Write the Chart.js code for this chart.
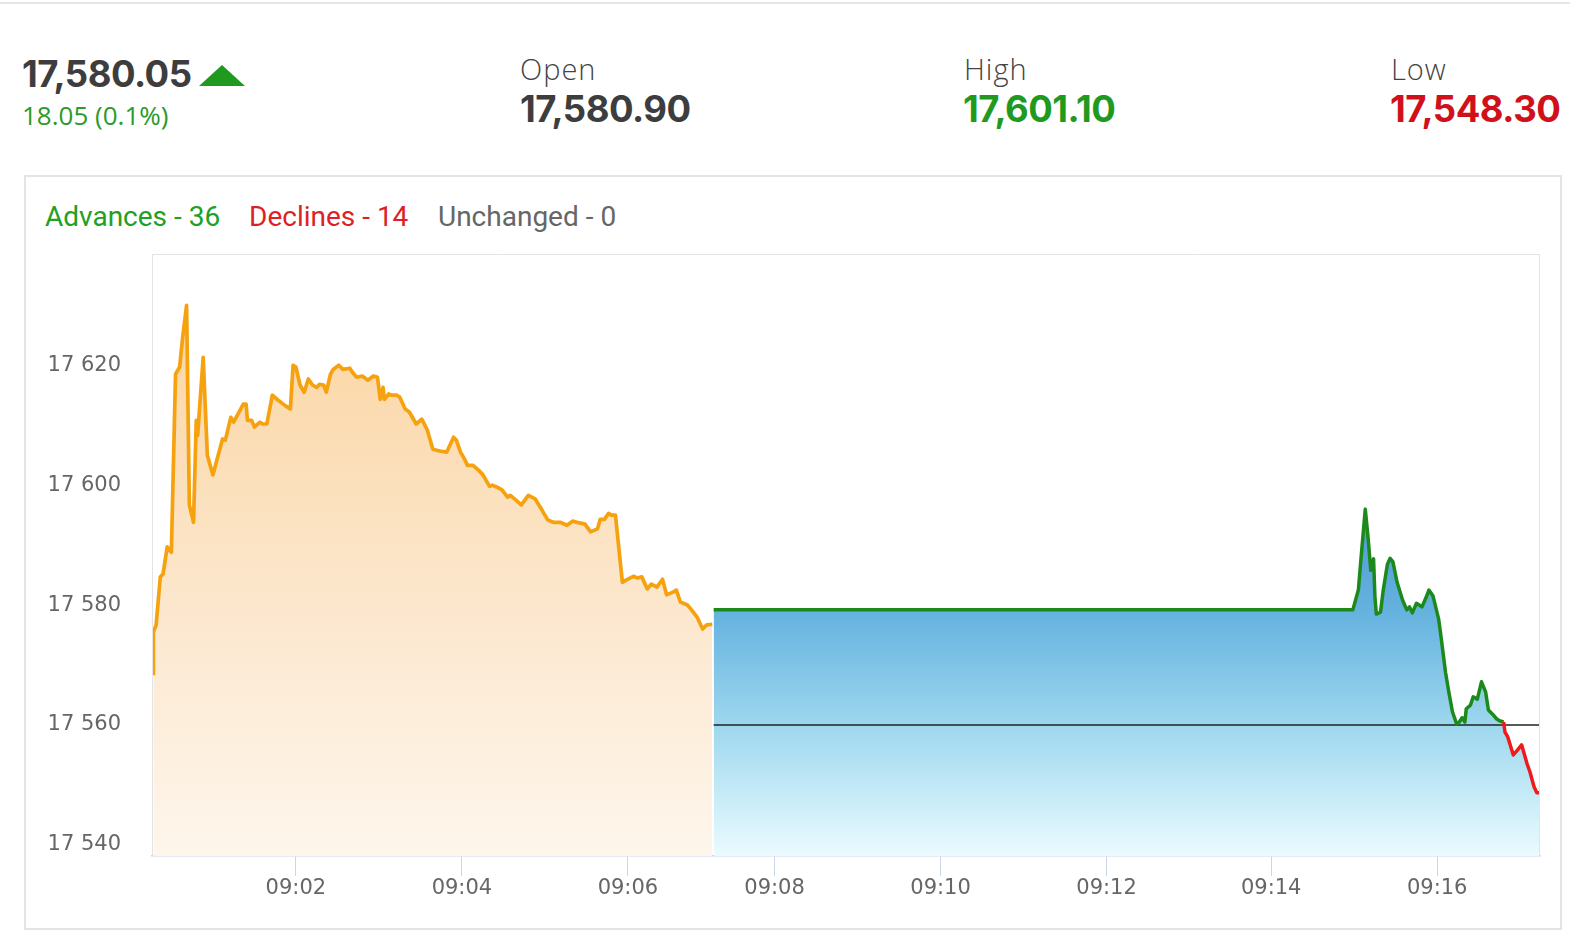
<!DOCTYPE html>
<html>
<head>
<meta charset="utf-8">
<script src="https://cdn.jsdelivr.net/npm/chart.js@4.4.1/dist/chart.umd.min.js"></script>
<style>
  html, body { margin:0; padding:0; background:#fff; width:1570px; height:938px; overflow:hidden; }
  .abs { position:absolute; white-space:nowrap; }
  #topline { position:absolute; left:0; top:2px; width:1570px; height:2px; background:#e6e6e6; }
  .big { font-family:"Inter","Open Sans",sans-serif; font-weight:700; font-size:36.5px; letter-spacing:-0.5px; color:#3d3d3d; }
  .lbl { font-family:"Open Sans",sans-serif; font-weight:300; font-size:29px; color:#444; letter-spacing:1px; }
  .chg { font-family:"Open Sans",sans-serif; font-weight:400; font-size:26px; color:#2a9a2a; }
  #card { position:absolute; left:24px; top:175px; width:1534px; height:751px; border:2px solid #e4e4e4; box-sizing:content-box; }
  .leg { font-family:Roboto,sans-serif; font-size:28px; }
  #tri { position:absolute; left:199px; top:65px; width:0; height:0; border-left:23px solid transparent; border-right:23px solid transparent; border-bottom:21px solid #1f9a1f; }
  canvas { position:absolute; left:0; top:0; }
</style>
</head>
<body>
<div id="topline"></div>
<div id="card"></div>
<div class="abs big" style="left:22px; top:52px;">17,580.05</div>
<div id="tri"></div>
<div class="abs chg" style="left:22px; top:97px;">18.05 (0.1%)</div>
<div class="abs lbl" style="left:520px; top:49px;">Open</div>
<div class="abs big" style="left:520px; top:87px;">17,580.90</div>
<div class="abs lbl" style="left:964px; top:49px;">High</div>
<div class="abs big" style="left:963px; top:87px; color:#1f9a1f;">17,601.10</div>
<div class="abs lbl" style="left:1391px; top:49px;">Low</div>
<div class="abs big" style="left:1390px; top:87px; color:#d0101a;">17,548.30</div>
<div class="abs leg" style="left:45px; top:200px; color:#22a022;">Advances - 36</div>
<div class="abs leg" style="left:249px; top:200px; color:#dd1f26;">Declines - 14</div>
<div class="abs leg" style="left:438px; top:200px; color:#666;">Unchanged - 0</div>
<canvas id="c" width="1570" height="938"></canvas>
<script>
// ---- data (x = seconds after 09:00:00 on the chart's axis) ----
const orangeTimes = [17,17,19,22,24,27,30,33,36,38,41,43,46,48,49,53,56,60,67,69,73,75,82,84,85,88,90,94,96,99,103,107,112,116,118,120,123,126,129,132,135,137,140,142,145,147,151,154,159,161,164,168,172,176,179,181,183,184,187,189,193,195,199,202,207,211,215,219,224,229,234,236,239,242,244,248,252,255,260,262,265,269,273,275,278,283,288,293,298,302,306,311,316,320,325,329,333,338,340,343,346,348,351,356,359,364,367,370,374,377,381,385,388,393,395,398,403,406,410,414,417,421];
const orangeValues = [17568.3,17575.5,17576.7,17584.7,17585.2,17589.7,17588.8,17618.5,17619.7,17624.3,17630,17596.7,17593.8,17610.8,17608.3,17621.3,17605,17601.7,17607.7,17607.5,17611.3,17610.5,17613.5,17613.5,17610.8,17610.8,17609.7,17610.5,17610.2,17610.2,17615,17614.2,17613.3,17612.7,17620,17619.7,17616.7,17615.5,17617.7,17616.7,17616.3,17616.8,17616.7,17615.5,17618.5,17619.3,17620,17619.3,17619.5,17618.8,17618,17618.2,17617.5,17618.2,17618,17614.3,17616.3,17614.3,17615.2,17615,17615,17614.7,17612.7,17612.2,17610.2,17611,17609.2,17606,17605.7,17605.5,17608,17607.5,17605.5,17604.3,17603.3,17603.3,17602.5,17601.8,17599.8,17600,17599.7,17599.2,17598,17598.3,17597.7,17596.7,17598.3,17597.7,17595.8,17594.2,17593.8,17593.8,17593.3,17594,17593.7,17593.5,17592.2,17592.7,17594.3,17594.3,17595.3,17595,17595,17583.8,17584.2,17584.8,17584.5,17584.7,17582.7,17583.5,17583,17584.3,17581.7,17582.2,17582.5,17580.5,17580,17579.2,17578,17576,17576.7,17576.8];
const liveTimes = [422,884,888,890,893,895,897,899,900,901,904,906,909,911,913,916,920,923,925,927,930,934,937,939,942,946,948,951,953,956,959,961,963,965,966,969,971,974,977,980,982,985,988,990,993,994,996,1000,1003,1006,1010,1012,1015,1017,1019];
const liveValues = [17579.2,17579.2,17582.5,17588,17596,17591.3,17585.8,17587.7,17581.3,17578.5,17578.8,17582.5,17586.8,17587.8,17587.2,17583.8,17580.8,17579.2,17579.7,17578.7,17580.3,17579.7,17581.3,17582.5,17581.5,17577.7,17574.3,17568.8,17566,17562.2,17560.2,17560.5,17561.2,17560.5,17562.7,17563.3,17564.7,17564.3,17567.2,17565.5,17562.5,17561.8,17561,17560.7,17560.5,17558.8,17558,17555,17555.8,17556.7,17553.5,17552.2,17549.7,17548.7,17548.7];
const baseValue = 17560;
const baseTimes = [422, 1019];
const xTickTimes = [120,240,360,466,586,706,825,945];
const xTickLabels = ["09:02","09:04","09:06","09:08","09:10","09:12","09:14","09:16"];
const yTicks = [17540,17560,17580,17600,17620];
const xRange = [16, 1019.3];
const yRange = [17538.15, 17638.55];

const GREEN = '#1b8a1b', RED = '#ee1b1b', ORANGE = '#f6a10e';

function grad(ctx, stops) {
  const chart = ctx.chart; const ys = chart.scales.y;
  if (!chart.chartArea || !ys) return 'rgba(0,0,0,0)';
  const y0 = ys.getPixelForValue(stops[0][0]);
  const y1 = ys.getPixelForValue(stops[stops.length-1][0]);
  const g = chart.ctx.createLinearGradient(0, y0, 0, y1);
  stops.forEach(s => g.addColorStop((ys.getPixelForValue(s[0]) - y0) / (y1 - y0), s[1]));
  return g;
}

const frame = {
  id: 'frame',
  afterDatasetsDraw(chart) {
    const {ctx, chartArea: a} = chart;
    ctx.save();
    ctx.strokeStyle = '#e3e3e3'; ctx.lineWidth = 1;
    ctx.beginPath();
    ctx.moveTo(a.left + 0.5, a.bottom); ctx.lineTo(a.left + 0.5, a.top + 0.5);
    ctx.lineTo(a.right - 0.5, a.top + 0.5); ctx.lineTo(a.right - 0.5, a.bottom);
    ctx.stroke();
    ctx.restore();
  }
};

const livePoints = liveTimes.map((t, i) => ({x: t, y: liveValues[i]}));

new Chart(document.getElementById('c'), {
  type: 'line',
  data: {
    datasets: [
      {
        data: livePoints,
        borderWidth: 3.5, pointRadius: 0, tension: 0, order: 1,
        borderColor: GREEN, borderJoinStyle: 'round',
        segment: { borderColor: c => (c.p1.parsed.y < baseValue ? RED : GREEN) },
        fill: false
      },
      {
        data: baseTimes.map(t => ({x: t, y: baseValue})),
        borderColor: '#222', borderWidth: 1.5, pointRadius: 0, fill: false, order: 2
      },
      {
        data: livePoints,
        borderWidth: 0, pointRadius: 0, tension: 0, order: 3,
        borderColor: 'rgba(0,0,0,0)',
        fill: 'start',
        backgroundColor: c => grad(c, [[17596,'#4f98d3'],[17579,'#65b2df'],[17560,'#9dd7ee'],[17537.8,'#ecfcff']])
      },
      {
        data: orangeTimes.map((t, i) => ({x: t, y: orangeValues[i]})),
        borderColor: ORANGE, borderWidth: 3.7, pointRadius: 0, tension: 0, order: 4,
        borderJoinStyle: 'round',
        fill: 'start',
        backgroundColor: c => grad(c, [[17620,'#fbd9ab'],[17580,'#fce7cd'],[17537.8,'#fef6ec']])
      }
    ]
  },
  options: {
    responsive: false, animation: false, devicePixelRatio: 1,
    layout: { padding: { left: 30, top: 254, right: 30, bottom: 22 } },
    plugins: { legend: {display: false}, tooltip: {enabled: false}, filler: { drawTime: 'beforeDatasetsDraw' } },
    scales: {
      x: {
        type: 'linear', min: xRange[0], max: xRange[1],
        afterFit: s => { s.height = 60; },
        afterBuildTicks: s => { s.ticks = xTickTimes.map(v => ({value: v})); },
        ticks: { autoSkip: false, maxRotation: 0, padding: 0, color: '#666',
          font: { family: 'DejaVu Sans', size: 21 },
          callback: v => xTickLabels[xTickTimes.indexOf(v)] },
        grid: { drawOnChartArea: false, drawTicks: true, tickLength: 20, tickColor: '#ccd6eb', tickWidth: 1 },
        border: { display: true, color: '#ccd6eb', width: 1.5 }
      },
      y: {
        type: 'linear', min: yRange[0], max: yRange[1],
        afterFit: s => { s.width = 122; },
        afterBuildTicks: s => { s.ticks = yTicks.map(v => ({value: v})); },
        ticks: { padding: 31, color: '#666', font: { family: 'DejaVu Sans', size: 21 },
          callback: v => String(v).replace(/(\d\d)(\d{3})$/, '$1 $2') },
        grid: { display: false, drawTicks: false },
        border: { display: false }
      }
    }
  },
  plugins: [frame]
});
</script>
</body>
</html>
